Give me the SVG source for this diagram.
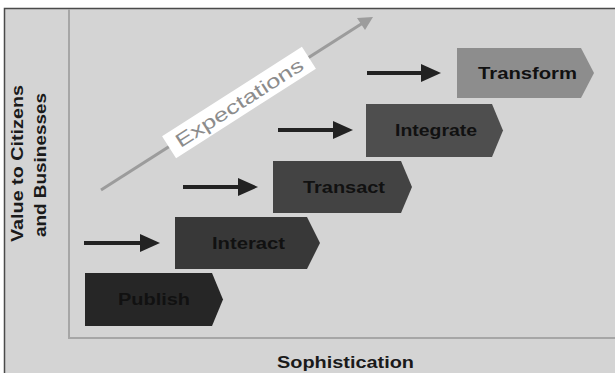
<svg xmlns="http://www.w3.org/2000/svg" width="615" height="373" viewBox="0 0 615 373">
<style>
.lbl{font-family:"Liberation Sans",Arial,sans-serif;font-weight:bold;font-size:16px;fill:#111;text-anchor:middle}
.ax{font-family:"Liberation Sans",Arial,sans-serif;font-weight:bold;font-size:17px;fill:#1a1a1a;text-anchor:middle}
.arr{stroke:#222;stroke-width:4;fill:none}
.head{fill:#222}
.axis{stroke:#a6a6a6;stroke-width:2;fill:none}
</style>
<rect x="0" y="0" width="615" height="373" fill="#ffffff"/>
<rect x="4" y="8" width="611" height="365" fill="#d4d4d4"/>
<path d="M4.5,373 V8.5 H615" fill="none" stroke="#4a4a4a" stroke-width="1.5"/>
<path class="axis" d="M69,9 V338 H615"/>

<g id="y-label">
<text class="ax" transform="translate(23,163.5) rotate(-90)" textLength="157" lengthAdjust="spacingAndGlyphs">Value to Citizens</text>
<text class="ax" transform="translate(46,165) rotate(-90)" textLength="144" lengthAdjust="spacingAndGlyphs">and Businesses</text>
</g>
<g id="x-label">
<text class="ax" x="345.5" y="368" font-size="18" textLength="137" lengthAdjust="spacingAndGlyphs">Sophistication</text>
</g>

<g id="expectations">
<line x1="101" y1="190" x2="362" y2="23.5" stroke="#9c9c9c" stroke-width="3"/>
<polygon points="373,17 357,18 365,30" fill="#9c9c9c"/>
<g transform="translate(239,102.5) rotate(-32.6)">
<rect x="-83" y="-13" width="166" height="26" fill="#ffffff"/>
<text x="0" y="7" font-family="'Liberation Sans',Arial,sans-serif" font-size="19" fill="#8c8c8c" text-anchor="middle" textLength="148" lengthAdjust="spacingAndGlyphs">Expectations</text>
</g>
</g>

<g id="connectors">
<line class="arr" x1="84" y1="243" x2="142" y2="243"/>
<polygon class="head" points="160,243 140,234 140,252"/>
<line class="arr" x1="183" y1="187" x2="240" y2="187"/>
<polygon class="head" points="258,187 238,178 238,196"/>
<line class="arr" x1="278" y1="130" x2="335" y2="130"/>
<polygon class="head" points="353,130 333,121 333,139"/>
<line class="arr" x1="367" y1="73" x2="423" y2="73"/>
<polygon class="head" points="441,73 421,64 421,82"/>
</g>

<g id="publish">
<polygon points="85,273 212,273 223,299.5 212,326 85,326" fill="#262626"/>
<text class="lbl" x="154" y="305" textLength="72" lengthAdjust="spacingAndGlyphs">Publish</text>
</g>
<g id="interact">
<polygon points="175,217 307,217 320,243 307,269 175,269" fill="#383838"/>
<text class="lbl" x="248.5" y="249" textLength="73" lengthAdjust="spacingAndGlyphs">Interact</text>
</g>
<g id="transact">
<polygon points="273,161 401,161 412,187 401,213 273,213" fill="#434343"/>
<text class="lbl" x="344" y="193" textLength="82" lengthAdjust="spacingAndGlyphs">Transact</text>
</g>
<g id="integrate">
<polygon points="366,104 492,104 503,130.5 492,157 366,157" fill="#4e4e4e"/>
<text class="lbl" x="436" y="136" textLength="82" lengthAdjust="spacingAndGlyphs">Integrate</text>
</g>
<g id="transform">
<polygon points="457,48 581,48 594,73 581,98 457,98" fill="#8d8d8d"/>
<text class="lbl" x="527.5" y="79" textLength="99" lengthAdjust="spacingAndGlyphs">Transform</text>
</g>
</svg>
